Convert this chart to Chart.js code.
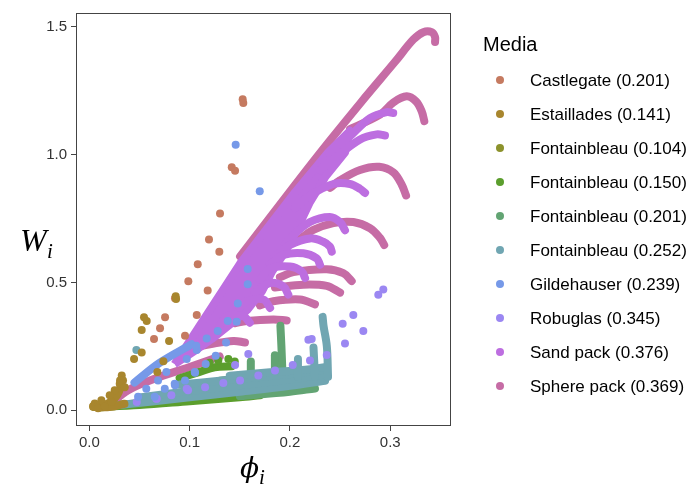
<!DOCTYPE html>
<html>
<head>
<meta charset="utf-8">
<script src="https://cdn.jsdelivr.net/npm/chart.js@4.4.0/dist/chart.umd.min.js"></script>
<style>
  body { margin: 0; background: #fff; }
  #wrap { width: 688px; height: 486px; }
</style>
</head>
<body>
<div id="wrap"><canvas id="chart" width="688" height="486"></canvas></div>
<script>
// Legend entries and colours
const media = ['Castlegate (0.201)', 'Estaillades (0.141)', 'Fontainbleau (0.104)', 'Fontainbleau (0.150)',
  'Fontainbleau (0.201)', 'Fontainbleau (0.252)', 'Gildehauser (0.239)', 'Robuglas (0.345)',
  'Sand pack (0.376)', 'Sphere pack (0.369)'];
const colors = ['#C57A60', '#A8862E', '#8C922C', '#5B9E2D', '#62A473', '#70A6B2', '#7699E8', '#9B87F2', '#BD6EE0', '#C66CA5'];

const xTicks = [0, 0.1, 0.2, 0.3];
const yTicks = [0, 0.5, 1.0, 1.5];

// isolated points [phi, W]
const castlegatePts = [[0.1529,1.217],[0.1535,1.202],[0.1420,0.950],[0.1453,0.937],[0.1303,0.769],[0.1193,0.668],
  [0.1296,0.620],[0.1081,0.571],[0.0987,0.504],[0.1180,0.468],[0.1071,0.372],[0.0755,0.364],[0.0705,0.320],
  [0.0645,0.278],[0.0954,0.291],[0.0854,0.438]];
const estailladesPts = [[0.0861,0.446],[0.0865,0.435],[0.0545,0.364],[0.0572,0.349],[0.0522,0.314],[0.0795,0.271],
  [0.0522,0.226],[0.0446,0.200],[0.0738,0.191],[0.0678,0.149],[0.0323,0.136],[0.0306,0.116],[0.0336,0.116],
  [0.0303,0.103],[0.0353,0.090],[0.0253,0.078],[0.0203,0.058],[0.0120,0.039],[0.0054,0.026],[0.0037,0.013],
  [0.0087,0.007],[0.0154,0.013],[0.0220,0.032]];
const gildehauserPts = [[0.1459,1.038],[0.1699,0.857],[0.1579,0.552],[0.1579,0.493],[0.1480,0.417],[0.1380,0.349],
  [0.1469,0.346],[0.1280,0.310],[0.1170,0.280],[0.1363,0.265],[0.1071,0.235],[0.0971,0.200],[0.1260,0.213],
  [0.1160,0.181],[0.1054,0.146],[0.0954,0.116],[0.0854,0.097],[0.1066,0.252],[0.0768,0.149],[0.0851,0.103],
  [0.0685,0.116],[0.0568,0.084],[0.0486,0.052],[0.0652,0.052],[0.0752,0.084],[0.1051,0.149]];
const robuglasPts = [[0.2881,0.452],[0.2931,0.472],[0.2632,0.372],[0.2526,0.338],[0.2732,0.310],[0.2549,0.261],
  [0.2184,0.275],[0.2217,0.278],[0.2200,0.194],[0.2367,0.216],[0.1585,0.220],[0.1453,0.177],[0.2028,0.177],
  [0.1851,0.155],[0.1685,0.136],[0.1503,0.116],[0.1336,0.106],[0.1154,0.090],[0.0971,0.084],[0.0672,0.045],
  [0.0473,0.032],[0.0818,0.058],[0.0668,0.045],[0.0984,0.078]];
const font150Pts = [[0.1386,0.200],[0.1286,0.194],[0.1200,0.185],[0.1450,0.190]];
const font252Pts = [[0.0469,0.235]];

// dense runs of points, drawn as strokes one point wide
const estailladesRuns = [
  [[0.004,0.016],[0.014,0.020],[0.022,0.035],[0.028,0.060],[0.031,0.090],[0.032,0.120]],
  [[0.005,0.012],[0.020,0.012],[0.035,0.025]]
];
const gildehauserRuns = [[[0.045,0.108],[0.070,0.185],[0.102,0.258]]];
const font104Runs = [[[0.010,0.010],[0.030,0.020],[0.060,0.030]]];
const font150Runs = [
  [[0.005,0.012],[0.050,0.020],[0.100,0.035],[0.150,0.050],[0.170,0.058]],
  [[0.090,0.125],[0.110,0.150],[0.125,0.168],[0.142,0.172]]
];
const font201Runs = [
  [[0.150,0.055],[0.200,0.072],[0.225,0.085]],
  [[0.130,0.115],[0.160,0.130],[0.190,0.150]],
  [[0.1925,0.150],[0.1915,0.250],[0.1905,0.330]],
  [[0.185,0.150],[0.185,0.215]],
  [[0.161,0.140],[0.161,0.190]]
];
const font252Runs = [
  [[0.030,0.020],[0.100,0.050],[0.150,0.072],[0.200,0.095],[0.235,0.115]],
  [[0.050,0.050],[0.100,0.075],[0.150,0.097],[0.200,0.120],[0.237,0.140]],
  [[0.090,0.100],[0.130,0.115],[0.170,0.130],[0.210,0.145],[0.237,0.160]],
  [[0.140,0.135],[0.180,0.148],[0.220,0.160],[0.237,0.170]],
  [[0.238,0.130],[0.2368,0.250],[0.2335,0.330],[0.2326,0.365]],
  [[0.225,0.130],[0.2235,0.245]],
  [[0.208,0.130],[0.208,0.200]]
];
const sandPackArea = [[0.0850,0.1800],[0.1503,0.5736],[0.2051,0.8527],[0.2380,1.0078],[0.2599,1.0930],
  [0.2549,1.0078],[0.2350,0.9109],[0.2200,0.8140],[0.2021,0.6667],[0.1921,0.6008],[0.1822,0.5426],
  [0.1722,0.4651],[0.1582,0.3953],[0.1423,0.3411],[0.1223,0.2791],[0.1054,0.2326],[0.0850,0.1800]];
const sandPackRuns = [
  [[0.2400,1.000],[0.2599,1.072],[0.2799,1.143],[0.2965,1.166],[0.3030,1.163]],
  [[0.2300,0.940],[0.2433,0.982],[0.2699,1.059],[0.2865,1.079],[0.2948,1.075]],
  [[0.2050,0.790],[0.2200,0.840],[0.2433,0.885],[0.2599,0.885],[0.2699,0.866],[0.2749,0.850]],
  [[0.1900,0.620],[0.2001,0.672],[0.2200,0.736],[0.2399,0.756],[0.2499,0.736],[0.2549,0.704]],
  [[0.1850,0.600],[0.2001,0.646],[0.2200,0.672],[0.2333,0.659],[0.2399,0.640],[0.2417,0.620]],
  [[0.1800,0.570],[0.1934,0.607],[0.2134,0.614],[0.2267,0.594],[0.2300,0.569]],
  [[0.1700,0.510],[0.1802,0.555],[0.2001,0.562],[0.2117,0.543],[0.2151,0.517]],
  [[0.1650,0.460],[0.1802,0.497],[0.1934,0.484],[0.1984,0.452]],
  [[0.1500,0.400],[0.1569,0.426],[0.1735,0.433],[0.1802,0.400]],
  [[0.1300,0.330],[0.1370,0.368],[0.1535,0.368],[0.1600,0.342]]
];
const spherePackRuns = [
  [[0.1503,0.601],[0.2051,0.881],[0.2383,1.047],[0.2716,1.208],[0.3048,1.363],[0.3230,1.450],[0.3330,1.479],
   [0.3414,1.479],[0.3447,1.460],[0.3447,1.441]],
  [[0.2600,1.100],[0.2898,1.156],[0.3031,1.204],[0.3164,1.228],[0.3257,1.208],[0.3314,1.169],[0.3340,1.131]],
  [[0.2400,0.870],[0.2500,0.900],[0.2699,0.940],[0.2891,0.952],[0.3031,0.930],[0.3115,0.882],[0.3158,0.840]],
  [[0.2100,0.670],[0.2233,0.705],[0.2433,0.732],[0.2632,0.736],[0.2799,0.712],[0.2898,0.674],[0.2940,0.646]],
  [[0.1900,0.520],[0.2034,0.540],[0.2367,0.551],[0.2532,0.536],[0.2616,0.505]],
  [[0.1850,0.480],[0.2134,0.491],[0.2367,0.486],[0.2500,0.460]],
  [[0.1700,0.410],[0.1834,0.426],[0.2101,0.433],[0.2250,0.414]],
  [[0.1450,0.340],[0.1569,0.349],[0.1834,0.355],[0.1968,0.351]],
  [[0.1100,0.250],[0.1203,0.258],[0.1436,0.271],[0.1552,0.265]],
  [[0.020,0.020],[0.0387,0.078],[0.0700,0.130],[0.0985,0.167],[0.1300,0.210]]
];

const toXY = arr => arr.map(([x, y]) => ({ x, y }));
const datasets = [];

function addPoints(pts, c) {
  datasets.push({ data: toXY(pts), backgroundColor: c, pointRadius: 4, pointBorderWidth: 0, showLine: false });
}
function addRuns(runs, c) {
  runs.forEach(run => datasets.push({
    data: toXY(run), showLine: true, borderColor: c, borderWidth: 8, pointRadius: 0,
    borderCapStyle: 'round', borderJoinStyle: 'round', tension: 0.35
  }));
}

// bottom layer first
addRuns(spherePackRuns, colors[9]);
datasets.push({ data: toXY(sandPackArea), showLine: true, fill: 'shape', backgroundColor: colors[8],
  borderColor: colors[8], borderWidth: 8, pointRadius: 0, borderJoinStyle: 'round', tension: 0 });
addRuns(sandPackRuns, colors[8]);
addRuns(font104Runs, colors[2]);
addRuns(font150Runs, colors[3]);
addRuns(font201Runs, colors[4]);
addRuns(font252Runs, colors[5]);
addPoints(font150Pts, colors[3]);
addPoints(font252Pts, colors[5]);
addPoints(robuglasPts, colors[7]);
addRuns(gildehauserRuns, colors[6]);
addPoints(gildehauserPts, colors[6]);
addPoints(castlegatePts, colors[0]);
addRuns(estailladesRuns, colors[1]);
addPoints(estailladesPts, colors[1]);
// later datasets on top
datasets.forEach((d, i) => { d.order = datasets.length - i; });

const tickFont = { family: 'Liberation Sans, Arial, sans-serif', size: 15 };

const decorations = {
  id: 'decorations',
  afterDatasetsDraw(chart) {
    const { ctx, chartArea: a } = chart;
    ctx.save();
    ctx.strokeStyle = '#444';
    ctx.lineWidth = 1;
    ctx.strokeRect(a.left + 0.5, a.top + 0.5, a.right - a.left - 1, a.bottom - a.top - 1);
    ctx.restore();
  },
  afterDraw(chart) {
    const ctx = chart.ctx;
    ctx.save();
    // axis titles
    ctx.fillStyle = '#000';
    ctx.textBaseline = 'alphabetic';
    ctx.font = 'italic 32px "Liberation Serif", serif';
    ctx.fillText('W', 20, 251);
    ctx.font = 'italic 21px "Liberation Serif", serif';
    ctx.fillText('i', 47, 258);
    ctx.font = 'italic 28px "DejaVu Serif", serif';
    ctx.fillText('\u03D5', 240, 477);
    const phiW = ctx.measureText('\u03D5').width;
    ctx.font = 'italic 21px "Liberation Serif", serif';
    ctx.fillText('i', 240 + phiW, 484);
    // legend
    ctx.font = '20px "Liberation Sans", Arial, sans-serif';
    ctx.fillText('Media', 483, 51);
    ctx.font = '17px "Liberation Sans", Arial, sans-serif';
    ctx.textBaseline = 'middle';
    media.forEach((name, i) => {
      const y = 80 + i * 34;
      ctx.fillStyle = colors[i];
      ctx.beginPath();
      ctx.arc(500, y, 4, 0, Math.PI * 2);
      ctx.fill();
      ctx.fillStyle = '#000';
      ctx.fillText(name, 530, y + 1);
    });
    ctx.restore();
  }
};

new Chart(document.getElementById('chart'), {
  type: 'scatter',
  data: { datasets },
  options: {
    responsive: false,
    animation: false,
    events: [],
    layout: { padding: { left: 0, right: 237, top: 9, bottom: 0 } },
    plugins: { legend: { display: false }, tooltip: { enabled: false } },
    scales: {
      x: {
        type: 'linear', min: -0.0133, max: 0.3606,
        afterBuildTicks: s => { s.ticks = xTicks.map(v => ({ value: v })); },
        afterFit: s => { s.height = 60; },
        ticks: { callback: v => v.toFixed(1), color: '#333', font: tickFont, padding: 3, maxRotation: 0 },
        grid: { drawOnChartArea: false, drawTicks: true, tickLength: 5, color: '#444' },
        border: { display: false }
      },
      y: {
        type: 'linear', min: -0.062, max: 1.554,
        afterBuildTicks: s => { s.ticks = yTicks.map(v => ({ value: v })); },
        afterFit: s => { s.width = 76; },
        ticks: { callback: v => v.toFixed(1), color: '#333', font: tickFont, padding: 4 },
        grid: { drawOnChartArea: false, drawTicks: true, tickLength: 5, color: '#444' },
        border: { display: false }
      }
    }
  },
  plugins: [decorations]
});
</script>
</body>
</html>
